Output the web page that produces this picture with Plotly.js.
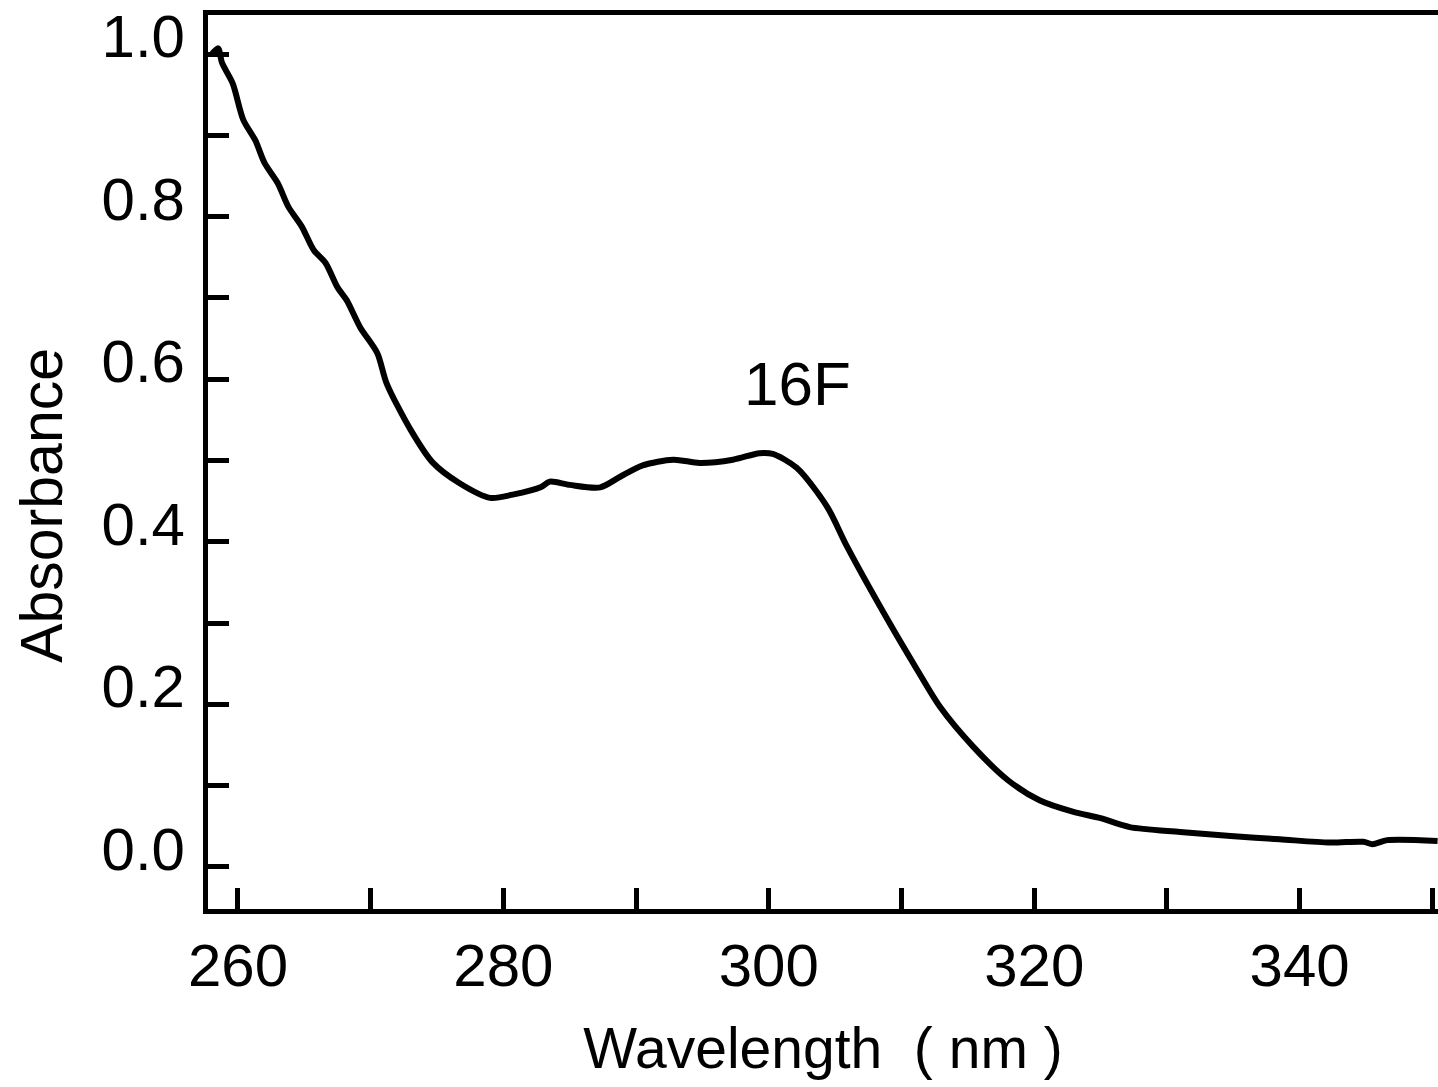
<!DOCTYPE html>
<html>
<head>
<meta charset="utf-8">
<script src="https://cdn.plot.ly/plotly-3.0.1.min.js"></script>
<style>html,body{margin:0;padding:0;background:#fff;}#chart{width:1438px;height:1087px;}</style>
</head>
<body>
<div id="chart"></div>
<script>
// Wavelength (nm) and absorbance
const wavelength = [258.0, 258.5, 258.8, 259.6, 260.4, 261.3, 262.0, 263.0, 263.8, 264.8, 265.7, 266.6, 267.5, 268.2, 269.2, 270.5, 271.2, 273.0, 274.7, 276.7, 279.0, 280.7, 282.8, 283.5, 285.0, 287.3, 288.8, 290.5, 292.8, 294.8, 297.3, 299.3, 300.3, 302.1, 304.4, 305.9, 309.1, 311.2, 312.9, 315.4, 318.0, 320.4, 322.9, 325.0, 327.2, 331.0, 334.8, 338.5, 342.3, 344.8, 345.5, 346.6, 350.4];
const absorbance = [0.999, 1.007, 0.989, 0.964, 0.919, 0.894, 0.866, 0.841, 0.812, 0.788, 0.759, 0.743, 0.713, 0.697, 0.664, 0.632, 0.595, 0.538, 0.497, 0.472, 0.454, 0.458, 0.467, 0.474, 0.470, 0.467, 0.480, 0.494, 0.501, 0.497, 0.501, 0.509, 0.508, 0.491, 0.443, 0.394, 0.300, 0.242, 0.197, 0.148, 0.107, 0.082, 0.068, 0.060, 0.049, 0.043, 0.038, 0.034, 0.030, 0.031, 0.028, 0.033, 0.032];

const xTickVals = [260, 270, 280, 290, 300, 310, 320, 330, 340, 350];
const xTickText = ['260', '', '280', '', '300', '', '320', '', '340', ''];
const yTickVals = [0, 0.1, 0.2, 0.3, 0.4, 0.5, 0.6, 0.7, 0.8, 0.9, 1.0];
const yTickText = ['0.0', '', '0.2', '', '0.4', '', '0.6', '', '0.8', '', '1.0'];
const curveLabel = '16F';
const xTitle = 'Wavelength  ( nm )';
const yTitle = 'Absorbance';

const FONT = 'Liberation Sans, Arial, sans-serif';
const xRange = [257.74, 350.43];
const yRange = [-0.0517, 1.048];

const trace = {
  x: wavelength, y: absorbance, type: 'scatter', mode: 'lines',
  line: {color: '#000', width: 6, shape: 'spline', smoothing: 0.8},
  hoverinfo: 'skip', showlegend: false
};

const layout = {
  width: 1438, height: 1087,
  margin: {l: 208, r: 0, t: 15, b: 178},
  paper_bgcolor: '#fff', plot_bgcolor: '#fff',
  font: {family: FONT, color: '#000', size: 60},
  showlegend: false,
  xaxis: {
    range: xRange, autorange: false, fixedrange: true,
    showgrid: false, zeroline: false,
    showline: true, linecolor: '#000', linewidth: 5, mirror: true,
    tickmode: 'array', tickvals: xTickVals, ticktext: xTickText,
    ticks: 'inside', ticklen: 21, tickwidth: 5, tickcolor: '#000',
    ticklabelstandoff: 0,
    tickfont: {family: FONT, size: 60, color: '#000'},
    title: {text: xTitle, font: {family: FONT, size: 57, color: '#000'}, standoff: 32},
    automargin: false
  },
  yaxis: {
    range: yRange, autorange: false, fixedrange: true,
    showgrid: false, zeroline: false,
    showline: true, linecolor: '#000', linewidth: 5,
    tickmode: 'array', tickvals: yTickVals, ticktext: yTickText,
    ticks: 'inside', ticklen: 21, tickwidth: 5, tickcolor: '#000',
    ticklabelshift: -18, ticklabelstandoff: 6,
    tickfont: {family: FONT, size: 60, color: '#000'},
    automargin: false
  },
  annotations: [
    {
      x: 302.2, y: 0.595, xref: 'x', yref: 'y', text: curveLabel, showarrow: false,
      font: {family: FONT, size: 62, color: '#000'}
    },
    {
      x: -0.135, y: 0.452, xref: 'paper', yref: 'paper', text: yTitle, showarrow: false,
      textangle: -90, xanchor: 'center', yanchor: 'middle',
      font: {family: FONT, size: 59, color: '#000'}
    }
  ]
};

Plotly.newPlot('chart', [trace], layout, {staticPlot: true, displayModeBar: false});
</script>
</body>
</html>
